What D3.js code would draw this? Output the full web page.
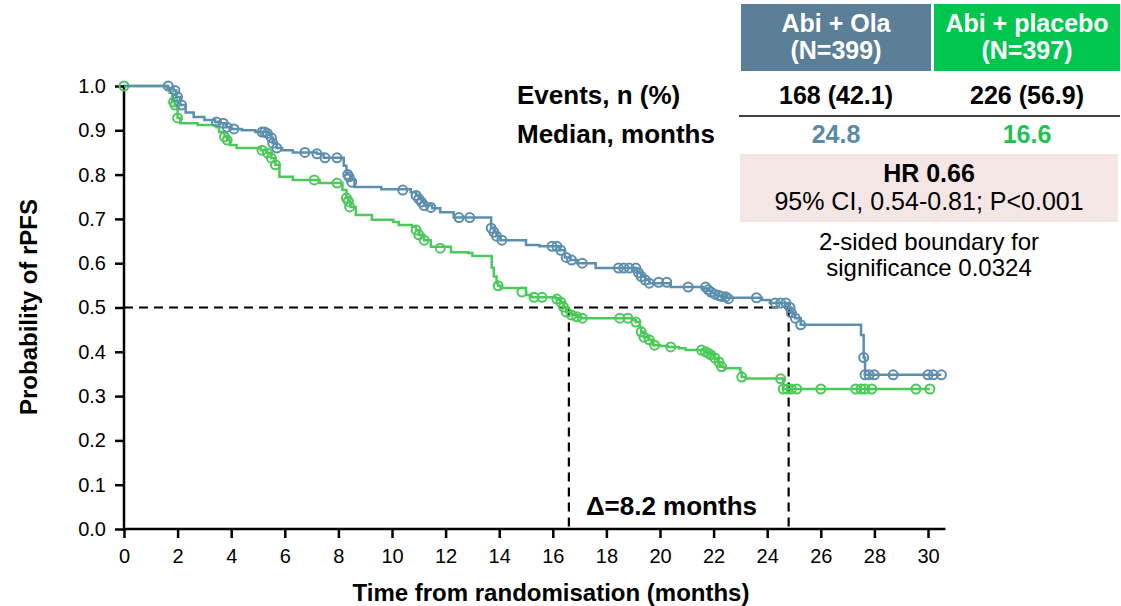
<!DOCTYPE html>
<html>
<head>
<meta charset="utf-8">
<script src="https://cdn.jsdelivr.net/npm/d3@7"></script>
<style>
  body { margin: 0; background: #fff; }
  text { font-family: "Liberation Sans", Arial, sans-serif; }
</style>
</head>
<body>
<div class="container"></div>
<script>
// KM step points [months, survival]
var olaSteps = [[0,1.0],[1.65,0.995],[1.85,0.99],[1.95,0.975],[2.1,0.957],[2.3,0.94],[2.6,0.93],[3.0,0.923],[3.4,0.919],[3.6,0.916],[3.8,0.907],[4.0,0.903],[4.4,0.90],[4.9,0.896],[5.4,0.89],[5.5,0.883],[5.55,0.871],[5.7,0.86],[5.9,0.855],[6.3,0.85],[7.2,0.847],[7.45,0.838],[8.2,0.82],[8.3,0.80],[8.45,0.79],[8.6,0.772],[9.6,0.767],[10.7,0.76],[10.9,0.753],[11.0,0.745],[11.1,0.738],[11.2,0.73],[11.5,0.724],[11.8,0.715],[12.3,0.703],[13.7,0.68],[13.8,0.67],[13.9,0.661],[14.05,0.652],[15.0,0.641],[15.5,0.638],[16.25,0.629],[16.45,0.613],[16.65,0.607],[16.9,0.60],[17.6,0.589],[19.15,0.578],[19.3,0.57],[19.45,0.562],[19.6,0.555],[20.4,0.546],[21.6,0.543],[21.8,0.538],[21.9,0.533],[22.05,0.529],[22.2,0.526],[22.5,0.522],[23.8,0.517],[24.1,0.51],[24.8,0.50],[24.9,0.488],[25.05,0.476],[25.25,0.461],[27.5,0.438],[27.6,0.387],[27.65,0.348],[30.5,0.348]];
var olaCensor = [[1.65,1.0],[1.9,0.99],[2.0,0.975],[2.15,0.957],[3.45,0.919],[3.7,0.916],[3.85,0.907],[4.1,0.903],[5.15,0.896],[5.25,0.896],[5.35,0.893],[5.5,0.883],[5.55,0.871],[5.7,0.86],[6.75,0.85],[7.2,0.847],[7.5,0.838],[7.95,0.838],[8.35,0.80],[8.4,0.795],[8.5,0.783],[10.4,0.765],[10.9,0.753],[11.0,0.745],[11.1,0.738],[11.2,0.73],[11.45,0.726],[12.5,0.703],[12.9,0.703],[13.7,0.679],[13.8,0.67],[13.9,0.661],[14.1,0.652],[15.97,0.638],[16.15,0.638],[16.3,0.629],[16.5,0.613],[16.7,0.607],[17.1,0.60],[18.45,0.589],[18.65,0.589],[18.85,0.589],[19.1,0.589],[19.2,0.578],[19.3,0.57],[19.45,0.562],[19.6,0.555],[19.95,0.557],[20.25,0.557],[21.05,0.546],[21.7,0.546],[21.8,0.54],[21.9,0.535],[22.05,0.53],[22.2,0.527],[22.3,0.525],[22.45,0.524],[22.55,0.52],[23.6,0.522],[24.3,0.51],[24.5,0.51],[24.7,0.51],[24.85,0.50],[24.9,0.488],[25.05,0.476],[25.25,0.461],[27.6,0.387],[27.65,0.348],[27.8,0.348],[28.0,0.348],[28.7,0.348],[30.0,0.348],[30.2,0.348],[30.5,0.348]];

var placeboSteps = [[0,1.0],[1.6,0.995],[1.7,0.985],[1.8,0.964],[1.9,0.955],[2.0,0.928],[2.1,0.916],[2.75,0.912],[3.45,0.907],[3.55,0.896],[3.75,0.885],[3.85,0.878],[3.95,0.867],[4.2,0.86],[5.1,0.855],[5.35,0.849],[5.5,0.837],[5.65,0.822],[5.8,0.795],[6.3,0.788],[7.3,0.781],[8.15,0.765],[8.3,0.747],[8.37,0.738],[8.45,0.727],[8.65,0.709],[9.25,0.698],[10.05,0.693],[10.25,0.686],[10.75,0.682],[10.9,0.675],[11.0,0.664],[11.2,0.652],[11.45,0.637],[12.2,0.625],[12.85,0.623],[13.0,0.616],[13.72,0.59],[13.8,0.57],[13.9,0.555],[13.96,0.549],[14.05,0.544],[15.0,0.528],[15.2,0.523],[16.1,0.521],[16.2,0.517],[16.3,0.512],[16.4,0.501],[16.5,0.49],[16.7,0.483],[16.9,0.479],[17.05,0.476],[18.95,0.472],[19.1,0.467],[19.25,0.455],[19.3,0.445],[19.4,0.433],[19.6,0.427],[19.75,0.415],[20.0,0.413],[20.3,0.411],[20.7,0.408],[20.95,0.404],[21.65,0.40],[21.8,0.397],[21.9,0.393],[22.0,0.386],[22.15,0.377],[22.25,0.366],[22.4,0.363],[23.0,0.354],[23.05,0.343],[23.2,0.34],[24.6,0.316],[30.07,0.316]];
var placeboCensor = [[0,1.0],[1.85,0.964],[1.9,0.957],[2.0,0.928],[3.75,0.885],[3.85,0.878],[5.15,0.855],[5.35,0.849],[5.5,0.837],[5.65,0.822],[7.1,0.788],[7.95,0.781],[8.3,0.747],[8.37,0.74],[8.42,0.727],[10.9,0.675],[11.0,0.664],[11.2,0.652],[11.8,0.634],[13.96,0.549],[14.85,0.535],[15.3,0.523],[15.6,0.523],[16.15,0.519],[16.3,0.512],[16.4,0.501],[16.5,0.49],[16.7,0.483],[16.9,0.479],[17.1,0.476],[18.5,0.476],[18.8,0.476],[19.1,0.467],[19.3,0.445],[19.4,0.433],[19.6,0.427],[19.8,0.415],[20.4,0.411],[21.55,0.404],[21.7,0.40],[21.8,0.397],[21.9,0.393],[22.05,0.386],[22.2,0.377],[22.3,0.366],[23.05,0.343],[24.5,0.339],[24.6,0.316],[24.75,0.316],[24.9,0.316],[25.1,0.316],[26.0,0.316],[27.3,0.316],[27.5,0.316],[27.65,0.316],[27.9,0.316],[29.55,0.316],[30.07,0.316]];

// medians (months) and summary table
var medians = [24.8, 16.6];
var arms = ["Abi + Ola", "Abi + placebo"];
var armN = ["(N=399)", "(N=397)"];
var events = ["168 (42.1)", "226 (56.9)"];
var medianLabels = ["24.8", "16.6"];
var xTicks = d3.range(0, 31, 2);
var yTicks = d3.range(0, 11).map(function(i) { return i / 10; });

var blue = "#5b8fad", green = "#4cc95a";

var svg = d3.select(".container").append("svg")
  .attr("width", 1121).attr("height", 606);

var x = d3.scaleLinear().domain([0, 30]).range([124, 928]);
var y = d3.scaleLinear().domain([0, 1]).range([529, 86]);

// axes
var yAxis = svg.append("g")
  .attr("transform", "translate(" + x(0) + ",0)")
  .call(d3.axisLeft(y).tickValues(yTicks).tickFormat(d3.format(".1f")).tickSize(9).tickPadding(9));
var xAxis = svg.append("g")
  .attr("transform", "translate(0," + y(0) + ")")
  .call(d3.axisBottom(x).tickValues(xTicks).tickSize(9).tickPadding(11));
[yAxis, xAxis].forEach(function(a) {
  a.select(".domain").remove();
  a.selectAll(".tick line").attr("stroke", "#000").attr("stroke-width", 2.5);
  a.selectAll(".tick text").attr("font-size", 20).attr("fill", "#000")
    .attr("font-family", "Liberation Sans, Arial, sans-serif");
});
svg.append("line").attr("x1", x(0)).attr("x2", x(0)).attr("y1", y(1) - 1).attr("y2", y(0) + 2)
  .attr("stroke", "#000").attr("stroke-width", 2.5);
svg.append("line").attr("x1", x(0) - 1).attr("x2", x(30.65)).attr("y1", y(0)).attr("y2", y(0))
  .attr("stroke", "#000").attr("stroke-width", 2.5);

// median guide lines
var dash = "9,6";
svg.append("line").attr("x1", x(0)).attr("x2", x(medians[0])).attr("y1", y(0.5)).attr("y2", y(0.5))
  .attr("stroke", "#000").attr("stroke-width", 2.2).attr("stroke-dasharray", dash);
medians.forEach(function(m) {
  svg.append("line").attr("x1", x(m)).attr("x2", x(m)).attr("y1", y(0.5)).attr("y2", y(0))
    .attr("stroke", "#000").attr("stroke-width", 2.2).attr("stroke-dasharray", dash);
});

// curves
var line = d3.line().x(function(d) { return x(d[0]); }).y(function(d) { return y(d[1]); })
  .curve(d3.curveStepAfter);
[[placeboSteps, placeboCensor, green], [olaSteps, olaCensor, blue]].forEach(function(s) {
  svg.append("path").attr("d", line(s[0])).attr("fill", "none")
    .attr("stroke", s[2]).attr("stroke-width", 2.5);
  svg.append("g").selectAll("circle").data(s[1]).enter().append("circle")
    .attr("cx", function(d) { return x(d[0]); })
    .attr("cy", function(d) { return y(d[1]); })
    .attr("r", 4.5).attr("fill", "none").attr("stroke", s[2]).attr("stroke-width", 2);
});

// axis titles
svg.append("text").attr("x", 551).attr("y", 601).attr("text-anchor", "middle")
  .attr("font-size", 24).attr("font-weight", "bold").text("Time from randomisation (months)");
svg.append("text").attr("transform", "translate(37,307) rotate(-90)").attr("text-anchor", "middle")
  .attr("font-size", 24).attr("font-weight", "bold").text("Probability of rPFS");

svg.append("text").attr("x", x(medians[1]) + 17).attr("y", 515)
  .attr("font-size", 26).attr("font-weight", "bold").text("\u0394=8.2 months");

// summary table
var colX = [836, 1027];
var boxes = [[741, 931, "#5b7f96"], [934, 1120, "#00c54f"]];
boxes.forEach(function(b, i) {
  svg.append("rect").attr("x", b[0]).attr("y", 4).attr("width", b[1] - b[0]).attr("height", 67).attr("fill", b[2]);
  svg.append("text").attr("x", colX[i]).attr("y", 32).attr("text-anchor", "middle")
    .attr("font-size", 25).attr("font-weight", "bold").attr("fill", "#fff").text(arms[i]);
  svg.append("text").attr("x", colX[i]).attr("y", 59).attr("text-anchor", "middle")
    .attr("font-size", 25).attr("font-weight", "bold").attr("fill", "#fff").text(armN[i]);
  svg.append("text").attr("x", colX[i]).attr("y", 104).attr("text-anchor", "middle")
    .attr("font-size", 25).attr("font-weight", "bold").attr("fill", "#000").text(events[i]);
  svg.append("text").attr("x", colX[i]).attr("y", 143).attr("text-anchor", "middle")
    .attr("font-size", 25).attr("font-weight", "bold").attr("fill", i ? "#1ec253" : "#5b8aa5").text(medianLabels[i]);
});
svg.append("text").attr("x", 517).attr("y", 104).attr("font-size", 26).attr("font-weight", "bold").text("Events, n (%)");
svg.append("text").attr("x", 517).attr("y", 143).attr("font-size", 26).attr("font-weight", "bold").text("Median, months");
svg.append("line").attr("x1", 739).attr("x2", 1120).attr("y1", 116).attr("y2", 116)
  .attr("stroke", "#000").attr("stroke-width", 1.5);

svg.append("rect").attr("x", 740).attr("y", 154).attr("width", 378).attr("height", 68).attr("fill", "#f3e6e5");
svg.append("text").attr("x", 929).attr("y", 182).attr("text-anchor", "middle")
  .attr("font-size", 25).attr("font-weight", "bold").text("HR 0.66");
svg.append("text").attr("x", 929).attr("y", 210).attr("text-anchor", "middle")
  .attr("font-size", 25).text("95% CI, 0.54-0.81; P<0.001");
svg.append("text").attr("x", 929).attr("y", 250).attr("text-anchor", "middle")
  .attr("font-size", 24).text("2-sided boundary for");
svg.append("text").attr("x", 929).attr("y", 276).attr("text-anchor", "middle")
  .attr("font-size", 24).text("significance 0.0324");
</script>
</body>
</html>
